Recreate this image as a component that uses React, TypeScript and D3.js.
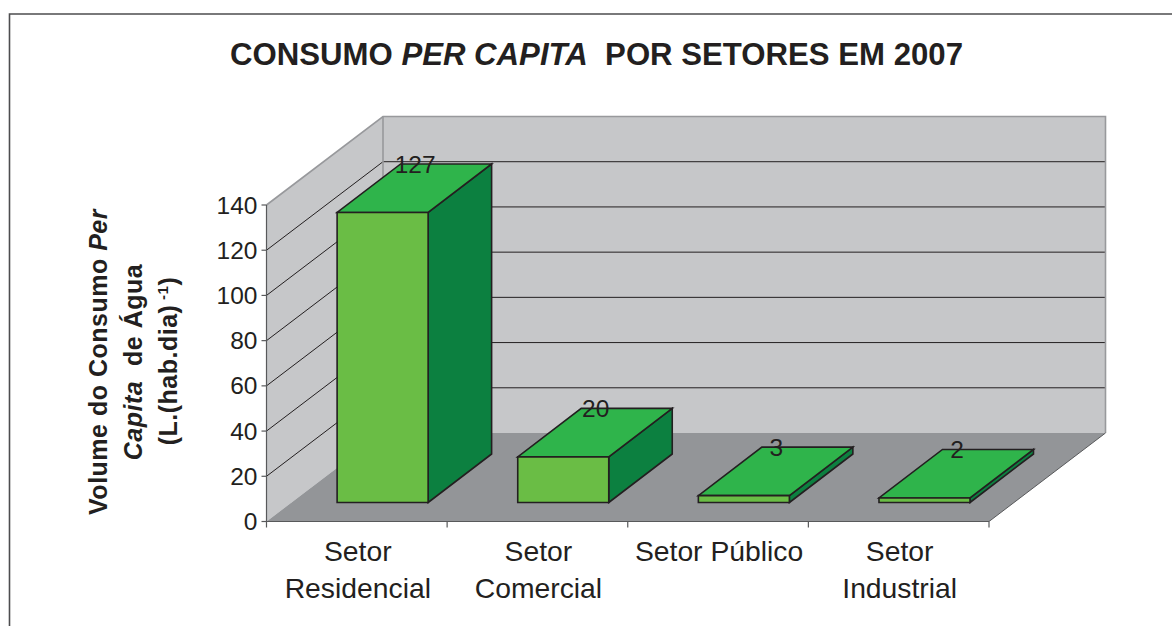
import React from "react";
import * as d3 from "d3";

const categories: string[][] = [["Setor", "Residencial"], ["Setor", "Comercial"], ["Setor Público"], ["Setor", "Industrial"]];
const values = [127, 20, 3, 2];
const valueTicks = [0, 20, 40, 60, 80, 100, 120, 140];

const W = 1172, H = 626;
const y = d3.scaleLinear().domain([0, 140]).range([521.5, 205]);
const barH = d3.scaleLinear().domain([0, 140]).range([0, 319.7]);
const x = d3.scaleBand<number>().domain(d3.range(categories.length)).range([266.5, 989]).paddingInner(0).paddingOuter(0);
const DX = 116.5, DY = -88.5;
const barW = 91, barDX = 63.5, barDY = -48.5, offX = 25.8, offY = -19;
const INK = "#231f20", WALL = "#c6c7c9", FLOOR = "#939598", EDGE = "#98999c";
const FRONT = "#6abd45", TOP = "#2fb44b", SIDE = "#0c8040";
const line = d3.line();
const FONT = "'Liberation Sans', Arial, sans-serif";
const poly = (p: [number, number][]) => line(p)! + "Z";

export default function App() {
  const x0 = x.range()[0], x1 = x.range()[1], y0 = y(0), yT = y(140);
  const axisTicks = [...x.domain().map(i => x(i)!), x1];
  return (
    <svg width={W} height={H} style={{ position: "absolute", left: 0, top: 0, background: "#fff" }} fontFamily={FONT} fill={INK}>
      <path d={`M9.5 ${H}V14H${W}`} fill="none" stroke="#4d4d4f" strokeWidth={1.6} />
      <text x={596.5} y={65} textAnchor="middle" fontSize={31} fontWeight="bold" xmlSpace="preserve" textLength={733} lengthAdjust="spacingAndGlyphs">
        CONSUMO <tspan fontStyle="italic">PER CAPITA</tspan>{"  "}POR SETORES EM 2007
      </text>

      <path d={poly([[x0, yT], [x0 + DX, yT + DY], [x0 + DX, y0 + DY], [x0, y0]])} fill={WALL} />
      <path d={poly([[x0 + DX, yT + DY], [x1 + DX, yT + DY], [x1 + DX, y0 + DY], [x0 + DX, y0 + DY]])} fill={WALL} />
      <path d={poly([[x0, y0], [x0 + DX, y0 + DY], [x1 + DX, y0 + DY], [x1, y0]])} fill={FLOOR} />
      {valueTicks.filter(t => t > 0 && t < 140).map(t => (
        <path key={t} d={line([[x0, y(t)], [x0 + DX, y(t) + DY], [x1 + DX, y(t) + DY]])!} fill="none" stroke={INK} strokeWidth={1} />
      ))}
      <path d={line([[x0, yT], [x0 + DX, yT + DY], [x1 + DX, yT + DY], [x1 + DX, y0 + DY]])!} fill="none" stroke={EDGE} strokeWidth={1.6} />
      <path d={line([[x0 + DX, yT + DY], [x0 + DX, y0 + DY]])!} fill="none" stroke={EDGE} strokeWidth={1.6} />
      <path d={line([[x1, y0], [x1 + DX, y0 + DY]])!} fill="none" stroke="#58595b" strokeWidth={1} />

      {values.map((v, i) => {
        const l = x(i)! + x.bandwidth() / 2 + offX - barW / 2, r = l + barW;
        const b = y0 + offY, t = b - barH(v);
        return (
          <g key={i} stroke={INK} strokeWidth={1.6} strokeLinejoin="miter">
            <path d={poly([[r, b], [r + barDX, b + barDY], [r + barDX, t + barDY], [r, t]])} fill={SIDE} />
            <path d={poly([[l, t], [r, t], [r + barDX, t + barDY], [l + barDX, t + barDY]])} fill={TOP} />
            <path d={poly([[l, t], [r, t], [r, b], [l, b]])} fill={FRONT} />
          </g>
        );
      })}
      {values.map((v, i) => {
        const cx = x(i)! + x.bandwidth() / 2 + offX + 32.5;
        return <text key={i} x={cx} y={y0 + offY - barH(v) + barDY + 9} textAnchor="middle" fontSize={24.5}>{v}</text>;
      })}

      <path d={`M${x0} ${yT}V${y0}H${x1}`} fill="none" stroke="#58595b" strokeWidth={1.2} />
      {valueTicks.map(t => (
        <g key={t}>
          <line x1={x0 - 5} x2={x0} y1={y(t)} y2={y(t)} stroke="#58595b" strokeWidth={1.2} />
          <text x={x0 - 9} y={y(t) + 8.5} textAnchor="end" fontSize={24.5}>{t}</text>
        </g>
      ))}
      {axisTicks.map((t, i) => <line key={i} x1={t} x2={t} y1={y0} y2={y0 + 6} stroke="#58595b" strokeWidth={1.2} />)}
      {categories.map((lines, i) => (
        <text key={i} textAnchor="middle" fontSize={28.3}>
          {lines.map((s, j) => <tspan key={j} x={x(i)! + x.bandwidth() / 2 + 1} y={561 + j * 37}>{s}</tspan>)}
        </text>
      ))}

      <g fontWeight="bold" fontSize={25} textAnchor="middle" letterSpacing={0.5}>
        <text transform="translate(107,362) rotate(-90)" xmlSpace="preserve">Volume do Consumo <tspan fontStyle="italic">Per</tspan></text>
        <text transform="translate(142,362) rotate(-90)" xmlSpace="preserve"><tspan fontStyle="italic">Capita</tspan>{"  "}de Água</text>
        <text transform="translate(177,361) rotate(-90)" xmlSpace="preserve">(L.(hab.dia)<tspan dy={-9} fontSize={15}> -1</tspan><tspan dy={9}>)</tspan></text>
      </g>
    </svg>
  );
}
